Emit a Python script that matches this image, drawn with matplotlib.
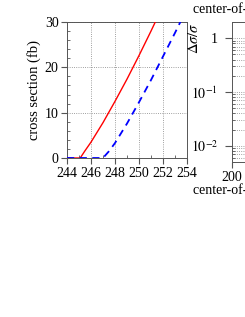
import numpy as np
import matplotlib
matplotlib.use('Agg')
from matplotlib import pyplot as plt
from matplotlib.ticker import MultipleLocator, LogLocator

plt.rcParams['font.family'] = ['Liberation Serif', 'DejaVu Serif']
plt.rcParams['mathtext.fontset'] = 'stix'
plt.rcParams['font.size'] = 10

# left panel: cross section vs sqrt(s)
red_x = [244.0, 245.1, 245.5, 246.0, 247.0, 248.0, 249.0, 250.0, 251.0, 251.5, 252.0]
red_y = [0.0, 0.0, 1.6, 3.5, 7.8, 12.5, 17.4, 22.6, 28.0, 30.8, 33.5]
blue_x = [244.0, 247.0, 247.5, 248.0, 249.0, 250.0, 251.0, 252.0, 253.0, 253.5, 254.0]
blue_y = [0.0, 0.0, 1.5, 3.3, 7.6, 12.3, 17.2, 22.4, 27.6, 30.3, 33.0]

# right panel (mostly cut off by the figure edge)
right_xlim = (200, 300)
right_ylim = (0.005, 2.0)
log_ticks = [1, 0.1, 0.01]
log_labels = ['1', r'$10^{-1}$', r'$10^{-2}$']

fig = plt.figure(figsize=(2.45, 3.17), dpi=100)
ax = fig.add_axes([67 / 245, 1 - 158 / 317, 120 / 245, 136 / 317])
ax.plot(red_x, red_y, color='red', lw=1.0, zorder=3)
ax.plot(blue_x, blue_y, color='blue', lw=1.3, ls=(0, (4, 3)), zorder=4)
ax.set_xlim(244, 254)
ax.set_ylim(0, 30)
ax.xaxis.set_major_locator(MultipleLocator(2))
ax.xaxis.set_minor_locator(MultipleLocator(1))
ax.yaxis.set_major_locator(MultipleLocator(10))
ax.yaxis.set_minor_locator(MultipleLocator(2))
ax.grid(True, which='major', ls=':', color='gray', lw=0.6)
ax.tick_params(which='major', direction='out', length=4, color='#555555', pad=2)
ax.tick_params(axis='x', which='major', pad=2.5)
ax.tick_params(which='minor', direction='in', length=2.5, color='#555555')
for s in ax.spines.values():
    s.set_color('#555555')
    s.set_linewidth(0.7)
ax.set_ylabel('cross section (fb)', fontsize=10.5, labelpad=3)

ax2 = fig.add_axes([232 / 245, 1 - 162 / 317, 120 / 245, 140 / 317])
ax2.set_yscale('log')
ax2.set_xlim(*right_xlim)
ax2.set_ylim(*right_ylim)
ax2.set_xticks([200, 250, 300])
ax2.set_yticks(log_ticks)
ax2.set_yticklabels(log_labels)
ax2.yaxis.set_minor_locator(LogLocator(base=10, subs=np.arange(2, 10)))
ax2.yaxis.set_minor_formatter(plt.NullFormatter())
ax2.grid(True, which='both', axis='y', ls=':', color='gray', lw=0.6)
ax2.tick_params(which='major', direction='out', length=5, color='#555555', pad=5)
ax2.tick_params(axis='x', which='major', length=4, pad=2.5)
ax2.tick_params(which='minor', direction='in', length=2.5, color='#555555')
for s in ax2.spines.values():
    s.set_color('#555555')
    s.set_linewidth(0.7)
ax2.set_ylabel(r'$\Delta\sigma/\sigma$', fontsize=10.5)
ax2.yaxis.set_label_coords(-0.317, 1.0)
ax2.yaxis.label.set_ha('right')
ax2.yaxis.label.set_va('center')

fig.text(193 / 245, 1 - 9 / 317, 'center-of-mass energy (GeV)', ha='left', va='center')
fig.text(193 / 245, 1 - 190 / 317, 'center-of-mass energy (GeV)', ha='left', va='center')

fig.savefig('out.png', dpi=100)
